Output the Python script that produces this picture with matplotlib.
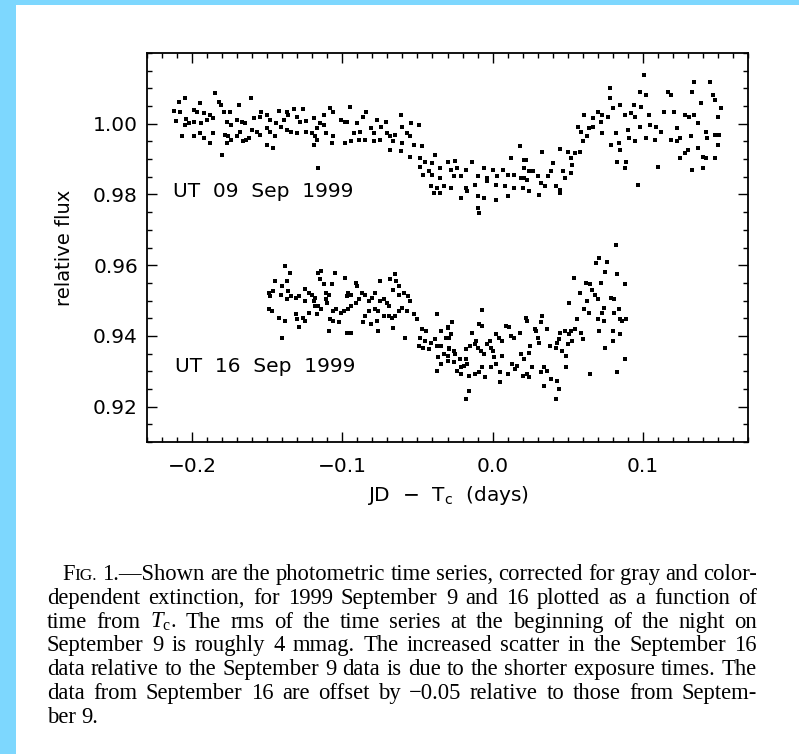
import matplotlib
matplotlib.use("Agg")
import matplotlib.pyplot as plt
from matplotlib.ticker import MultipleLocator
from matplotlib.patches import Rectangle

plt.rcParams['font.family'] = ['DejaVu Sans']
plt.rcParams['mathtext.fontset'] = 'custom'
plt.rcParams['mathtext.rm'] = 'Liberation Serif'
plt.rcParams['mathtext.it'] = 'Liberation Serif:italic'
plt.rcParams['mathtext.sf'] = 'DejaVu Sans'

# ---------------- data ----------------
sep09_points = [
    (-0.205,1.0074),(-0.209,1.0062),(-0.185,1.0086),(-0.161,1.0074),(-0.182,1.0062),(-0.181,1.0053),
    (-0.195,1.0058),(-0.169,1.0053),(-0.212,1.0036),(-0.208,1.0034),(-0.199,1.0039),(-0.197,1.0034),
    (-0.192,1.0029),(-0.188,1.0025),(-0.179,1.0032),(-0.175,1.0034),(-0.211,1.0008),(-0.204,1.0013),
    (-0.202,1.0001),(-0.205,0.9997),(-0.199,1.0006),(-0.194,1.0001),(-0.190,1.0011),(-0.186,1.0017),
    (-0.177,1.0006),(-0.174,0.9997),(-0.170,1.0011),(-0.167,1.0006),(-0.165,1.0001),(-0.159,1.0015),
    (-0.154,1.0034),(-0.155,1.0020),(-0.150,1.0025),(-0.142,1.0036),(-0.137,1.0034),(-0.132,1.0042),
    (-0.126,1.0042),(-0.148,1.0011),(-0.144,1.0001),(-0.139,1.0011),(-0.136,1.0025),(-0.130,1.0020),
    (-0.128,1.0006),(-0.124,1.0008),(-0.119,1.0015),(-0.112,1.0025),(-0.106,1.0034),(-0.108,1.0044),
    (-0.101,1.0011),(-0.097,1.0006),(-0.112,0.9997),(-0.115,1.0001),(-0.207,0.9964),(-0.199,0.9964),
    (-0.195,0.9973),(-0.192,0.9959),(-0.188,0.9945),(-0.186,0.9973),(-0.178,0.9968),(-0.176,0.9964),
    (-0.174,0.9954),(-0.170,0.9964),(-0.168,0.9978),(-0.164,0.9954),(-0.160,0.9983),(-0.157,0.9978),
    (-0.155,0.9968),(-0.150,0.9987),(-0.148,0.9978),(-0.145,0.9964),(-0.141,0.9992),(-0.137,0.9983),
    (-0.134,0.9978),(-0.130,0.9973),(-0.124,0.9978),(-0.120,0.9973),(-0.118,0.9964),(-0.117,0.9987),
    (-0.111,0.9973),(-0.106,0.9964),(-0.107,0.9945),(-0.119,0.9940),(-0.117,0.9954),(-0.098,0.9945),
    (-0.150,0.9940),(-0.146,0.9931),(-0.177,0.9945),(-0.180,0.9912),(-0.116,0.9875),(-0.162,0.9959),
    (-0.166,0.9950),
    (-0.095,1.0048),(-0.084,1.0034),(-0.086,1.0020),(-0.098,1.0006),(-0.090,1.0001),(-0.077,1.0011),
    (-0.071,1.0006),(-0.061,1.0025),(-0.054,1.0001),(-0.049,0.9997),(-0.060,0.9992),(-0.074,0.9992),
    (-0.081,0.9987),(-0.088,0.9978),(-0.092,0.9973),(-0.079,0.9973),(-0.070,0.9973),(-0.068,0.9964),
    (-0.065,0.9967),(-0.057,0.9973),(-0.055,0.9964),(-0.098,0.9945),(-0.094,0.9950),(-0.089,0.9954),
    (-0.085,0.9954),(-0.079,0.9950),(-0.075,0.9954),(-0.066,0.9950),(-0.060,0.9945),(-0.052,0.9940),
    (-0.047,0.9936),(-0.068,0.9926),(-0.061,0.9923),(-0.055,0.9907),(-0.048,0.9903),(-0.038,0.9912),
    (-0.045,0.9893),(-0.040,0.9889),(-0.030,0.9893),(-0.025,0.9895),(-0.014,0.9893),(-0.048,0.9879),
    (-0.042,0.9865),(-0.035,0.9875),(-0.028,0.9870),(-0.024,0.9875),(-0.018,0.9870),(-0.006,0.9875),
    (-0.000,0.9870),(0.007,0.9870),(0.012,0.9903),(0.018,0.9936),(0.021,0.9898),(0.021,0.9875),
    (0.024,0.9865),(-0.046,0.9856),(-0.040,0.9856),(-0.035,0.9846),(-0.026,0.9851),(-0.021,0.9851),
    (-0.010,0.9851),(-0.004,0.9846),(0.003,0.9851),(0.010,0.9856),(0.014,0.9856),(0.021,0.9846),
    (-0.041,0.9823),(-0.037,0.9818),(-0.032,0.9823),(-0.028,0.9818),(-0.018,0.9818),(-0.012,0.9828),
    (-0.004,0.9837),(0.002,0.9828),(0.008,0.9823),(0.014,0.9818),(0.020,0.9818),(-0.039,0.9804),
    (-0.035,0.9804),(-0.017,0.9809),(-0.010,0.9795),(-0.006,0.9790),(0.002,0.9785),(0.010,0.9795),
    (-0.021,0.9790),(-0.010,0.9762),(-0.009,0.9748),
    (0.022,0.9898),(0.027,0.9865),(0.019,0.9846),(0.023,0.9842),(0.030,0.9851),(0.033,0.9920),
    (0.040,0.9889),(0.039,0.9865),(0.037,0.9851),(0.032,0.9832),(0.035,0.9823),(0.024,0.9809),
    (0.031,0.9799),(0.042,0.9823),(0.045,0.9814),(0.047,0.9865),(0.048,0.9846),(0.045,0.9804),
    (0.045,0.9929),(0.050,0.9921),(0.052,0.9903),(0.055,0.9917),(0.053,0.9884),(0.052,0.9860),
    (0.058,0.9921),(0.060,0.9950),(0.057,0.9992),(0.059,0.9978),(0.064,0.9987),(0.067,0.9992),
    (0.063,0.9964),(0.061,1.0025),(0.067,1.0015),(0.070,1.0034),(0.073,1.0025),(0.077,1.0020),
    (0.072,1.0006),(0.073,0.9973),(0.078,1.0100),(0.078,1.0072),(0.080,1.0044),(0.085,1.0053),
    (0.088,1.0025),(0.092,1.0029),(0.094,1.0053),(0.095,1.0020),(0.099,1.0048),(0.098,1.0090),
    (0.102,1.0081),(0.101,1.0137),(0.104,1.0025),(0.105,0.9997),(0.109,0.9992),(0.112,0.9978),
    (0.114,1.0034),(0.117,1.0090),(0.119,1.0081),(0.121,1.0034),(0.123,0.9987),(0.128,1.0025),
    (0.131,1.0020),(0.134,1.0025),(0.137,1.0001),(0.139,1.0058),(0.133,1.0090),(0.134,1.0119),
    (0.145,1.0119),(0.147,1.0081),(0.148,1.0067),(0.150,1.0020),(0.142,0.9978),(0.143,0.9959),
    (0.148,0.9968),(0.151,0.9968),(0.082,0.9973),(0.090,0.9983),(0.091,0.9959),(0.095,0.9950),
    (0.098,0.9992),(0.102,0.9959),(0.108,0.9954),(0.119,0.9954),(0.123,0.9950),(0.125,0.9959),
    (0.132,0.9964),(0.137,0.9931),(0.130,0.9926),(0.125,0.9903),(0.128,0.9917),(0.140,0.9907),
    (0.142,0.9903),(0.148,0.9903),(0.150,0.9940),(0.079,0.9940),(0.084,0.9945),(0.085,0.9926),
    (0.083,0.9893),(0.089,0.9893),(0.088,0.9875),(0.110,0.9879),(0.097,0.9828),(0.133,0.9870),
    (0.140,0.9875),(0.152,1.0044),
]

# Sep 16 values, already offset by -0.05 as in the figure
sep16_points = [
    (-0.138,0.9597),(-0.135,0.9578),(-0.145,0.9555),(-0.137,0.9555),(-0.140,0.9541),(-0.149,0.9522),
    (-0.146,0.9527),(-0.141,0.9517),(-0.148,0.9513),(-0.136,0.9527),(-0.134,0.9513),(-0.137,0.9503),
    (-0.131,0.9508),(-0.129,0.9513),(-0.125,0.9532),(-0.122,0.9522),(-0.120,0.9517),(-0.118,0.9508),
    (-0.119,0.9499),(-0.125,0.9499),(-0.116,0.9578),(-0.114,0.9583),(-0.115,0.9560),(-0.112,0.9546),
    (-0.107,0.9546),(-0.105,0.9578),(-0.098,0.9564),(-0.091,0.9550),(-0.090,0.9541),(-0.111,0.9522),
    (-0.109,0.9517),(-0.111,0.9503),(-0.110,0.9494),(-0.116,0.9485),(-0.118,0.9485),(-0.149,0.9475),
    (-0.147,0.9471),(-0.142,0.9452),(-0.138,0.9442),(-0.131,0.9461),(-0.130,0.9447),(-0.126,0.9452),
    (-0.125,0.9442),(-0.129,0.9424),(-0.122,0.9466),(-0.117,0.9461),(-0.114,0.9475),(-0.106,0.9471),
    (-0.104,0.9475),(-0.101,0.9466),(-0.099,0.9471),(-0.096,0.9475),(-0.094,0.9485),(-0.091,0.9494),
    (-0.097,0.9513),(-0.096,0.9522),(-0.094,0.9517),(-0.087,0.9522),(-0.089,0.9503),(-0.085,0.9517),
    (-0.082,0.9499),(-0.080,0.9508),(-0.078,0.9522),(-0.075,0.9555),(-0.075,0.9499),(-0.072,0.9503),
    (-0.070,0.9494),(-0.069,0.9485),(-0.068,0.9560),(-0.065,0.9574),(-0.064,0.9555),(-0.062,0.9541),
    (-0.066,0.9531),(-0.062,0.9517),(-0.059,0.9522),(-0.056,0.9513),(-0.055,0.9499),(-0.060,0.9480),
    (-0.057,0.9471),(-0.052,0.9461),(-0.050,0.9447),(-0.062,0.9471),(-0.065,0.9456),(-0.067,0.9452),
    (-0.069,0.9456),(-0.076,0.9471),(-0.072,0.9456),(-0.078,0.9475),(-0.082,0.9471),(-0.085,0.9456),
    (-0.086,0.9438),(-0.081,0.9433),(-0.077,0.9442),(-0.076,0.9414),(-0.108,0.9447),(-0.106,0.9442),
    (-0.102,0.9438),(-0.109,0.9414),(-0.097,0.9409),(-0.094,0.9409),(-0.140,0.9395),(-0.066,0.9423),
    (-0.058,0.9395),(-0.037,0.9461),(-0.047,0.9419),(-0.044,0.9414),(-0.048,0.9395),(-0.045,0.9386),
    (-0.041,0.9381),(-0.038,0.9391),(-0.049,0.9372),(-0.046,0.9367),(-0.042,0.9362),(-0.037,0.9372),
    (-0.036,0.9339),(-0.034,0.9320),(-0.037,0.9301),(-0.030,0.9423),(-0.029,0.9395),(-0.030,0.9344),
    (-0.029,0.9367),
    (-0.034,0.9414),(-0.030,0.9424),(-0.027,0.9438),(-0.031,0.9395),(-0.028,0.9405),(-0.034,0.9372),
    (-0.029,0.9362),(-0.026,0.9358),(-0.025,0.9348),(-0.032,0.9348),(-0.034,0.9320),(-0.030,0.9330),
    (-0.026,0.9325),(-0.022,0.9334),(-0.021,0.9311),(-0.019,0.9316),(-0.018,0.9334),(-0.024,0.9301),
    (-0.021,0.9292),(-0.016,0.9287),(-0.012,0.9292),(-0.017,0.9320),(-0.018,0.9362),(-0.015,0.9372),
    (-0.012,0.9377),(-0.011,0.9386),(-0.014,0.9409),(-0.009,0.9433),(-0.007,0.9428),(-0.007,0.9472),
    (-0.010,0.9367),(-0.008,0.9358),(-0.006,0.9348),(-0.004,0.9377),(-0.002,0.9386),(-0.001,0.9367),
    (-0.000,0.9358),(0.001,0.9339),(0.002,0.9405),(0.004,0.9395),(0.006,0.9386),(0.009,0.9428),
    (0.011,0.9424),(0.012,0.9400),(0.014,0.9395),(0.018,0.9409),(0.006,0.9344),(0.002,0.9320),
    (-0.001,0.9311),(-0.007,0.9311),(-0.005,0.9283),(-0.009,0.9297),(0.005,0.9297),(0.005,0.9269),
    (0.010,0.9292),(0.013,0.9320),(0.016,0.9316),(0.015,0.9306),(0.019,0.9348),(0.021,0.9334),
    (0.020,0.9287),(0.023,0.9292),(0.025,0.9372),(0.024,0.9353),(0.029,0.9414),(0.030,0.9395),
    (0.031,0.9381),(0.028,0.9419),(0.022,0.9452),(0.023,0.9442),(0.033,0.9456),(0.032,0.9438),
    (0.036,0.9419),(0.038,0.9372),(0.042,0.9367),(0.043,0.9381),(0.045,0.9409),(0.048,0.9414),
    (0.044,0.9391),(0.046,0.9358),(0.049,0.9344),(0.050,0.9377),(0.051,0.9405),(0.052,0.9414),
    (0.055,0.9419),(0.056,0.9447),(0.053,0.9386),(0.059,0.9409),(0.060,0.9391),(0.034,0.9311),
    (0.036,0.9301),(0.032,0.9297),(0.039,0.9278),(0.043,0.9273),(0.044,0.9250),(0.042,0.9222),
    (0.034,0.9259),(0.026,0.9311),(0.024,0.9283),(-0.016,0.9245),(-0.018,0.9222),(0.049,0.9311),
    (0.051,0.9494),(0.054,0.9564),(0.058,0.9522),(0.062,0.9550),(0.065,0.9546),(0.066,0.9531),
    (0.068,0.9517),(0.063,0.9499),(0.061,0.9475),(0.064,0.9466),(0.070,0.9503),(0.072,0.9550),
    (0.075,0.9581),(0.071,0.9621),(0.069,0.9607),(0.076,0.9609),(0.082,0.9658),(0.083,0.9574),
    (0.088,0.9548),(0.079,0.9508),(0.081,0.9503),(0.074,0.9480),(0.073,0.9466),(0.070,0.9447),
    (0.074,0.9442),(0.071,0.9414),(0.081,0.9466),(0.084,0.9475),(0.085,0.9447),(0.089,0.9447),
    (0.086,0.9442),(0.085,0.9405),(0.080,0.9414),(0.080,0.9386),(0.075,0.9367),(0.088,0.9334),
    (0.065,0.9292),(0.083,0.9297),
]

x_ticks = [-0.2, -0.1, 0.0, 0.1]
x_tick_labels = ['\u22120.2', '\u22120.1', '0.0', '0.1']
y_ticks = [0.92, 0.94, 0.96, 0.98, 1.00]
y_tick_labels = ['0.92', '0.94', '0.96', '0.98', '1.00']
x_range = (-0.23, 0.17)
y_range = (0.91, 1.02)
series_labels = ['UT  09  Sep  1999', 'UT  16  Sep  1999']
series_label_pos = [(-0.2127, 0.9794), (-0.2115, 0.9297)]
x_title = 'JD  \u2212  T$_{\\mathsf{c}}$  (days)'
y_title = 'relative flux'

caption_lines = [
    'FIG. 1.\u2014Shown are the photometric time series, corrected for gray and color-',
    'dependent extinction, for 1999 September 9 and 16 plotted as a function of',
    'time from $T_\\mathrm{c}$. The rms of the time series at the beginning of the night on',
    'September 9 is roughly 4 mmag. The increased scatter in the September 16',
    'data relative to the September 9 data is due to the shorter exposure times. The',
    'data from September 16 are offset by \u22120.05 relative to those from Septem-',
    'ber 9.',
]

# ---------------- figure ----------------
W, H = 799, 754
fig = plt.figure(figsize=(W / 100, H / 100), dpi=100)
fig.patch.set_facecolor('white')

# light-blue page border (top and left)
border = '#7dd7fe'
fig.patches.append(Rectangle((0, 1 - 5 / H), 1, 5 / H, transform=fig.transFigure,
                             facecolor=border, edgecolor='none', zorder=0))
fig.patches.append(Rectangle((0, 0), 16 / W, 1, transform=fig.transFigure,
                             facecolor=border, edgecolor='none', zorder=0))

ax_l, ax_r, ax_t, ax_b = 147, 748, 53, 442
ax = fig.add_axes([ax_l / W, 1 - ax_b / H, (ax_r - ax_l) / W, (ax_b - ax_t) / H])

sx, sy = zip(*sep09_points)
ax.plot(sx, sy, linestyle='none', marker='s', ms=2.5, mew=0, color='black')
tx, ty = zip(*sep16_points)
ax.plot(tx, ty, linestyle='none', marker='s', ms=2.5, mew=0, color='black')

lab_fs = 14.5
ax.set_xlim(*x_range)
ax.set_ylim(*y_range)
ax.set_xticks(x_ticks, labels=x_tick_labels)
ax.set_yticks(y_ticks, labels=y_tick_labels)
ax.xaxis.set_minor_locator(MultipleLocator(0.01))
ax.yaxis.set_minor_locator(MultipleLocator(0.005))
ax.tick_params(which='both', direction='in', top=True, right=True, color='black', labelsize=lab_fs)
ax.tick_params(which='major', length=7.2, width=1.0)
ax.tick_params(which='minor', length=3.6, width=1.0)
ax.tick_params(axis='x', which='major', pad=11)
ax.tick_params(axis='y', which='major', pad=6.5)
for s in ax.spines.values():
    s.set_linewidth(1.3)

ax.set_xlabel(x_title, fontsize=lab_fs, va='center')
ax.xaxis.set_label_coords(0.5, (ax_b - 496) / (ax_b - ax_t))
ax.set_ylabel(y_title, fontsize=14, va='center')
ax.yaxis.set_label_coords((65 - ax_l) / (ax_r - ax_l), 0.5)

for lab, (lx, ly) in zip(series_labels, series_label_pos):
    ax.text(lx, ly, lab, fontsize=lab_fs, ha='left', va='baseline')

# ---------------- caption (justified) ----------------
renderer = fig.canvas.get_renderer()
cap_fs = 16.3
cap_family = 'Liberation Serif'
left0, indent0, right0 = 47, 62, 757
base0, lead = 580, 23.8


def pieces(word):
    if word == 'FIG.':
        return [('F', cap_fs), ('IG.', cap_fs * 0.76)]
    return [(word, cap_fs)]


def draw_word(word, xpx, ypx, keep=True):
    total = 0.0
    objs = []
    for txt, fs in pieces(word):
        t = fig.text((xpx + total) / W, 1 - ypx / H, txt, fontsize=fs,
                     family=cap_family, ha='left', va='baseline', color='black')
        total += t.get_window_extent(renderer).width
        objs.append(t)
    if not keep:
        for t in objs:
            t.remove()
    return total


space_px = 0.25 * cap_fs * 100 / 72
for i, line in enumerate(caption_lines):
    words = line.split(' ')
    widths = [draw_word(w, 0, 0, keep=False) for w in words]
    x0 = indent0 if i == 0 else left0
    yb = base0 + i * lead
    last = (i == len(caption_lines) - 1)
    if last or len(words) < 2:
        gap = space_px
    else:
        gap = max(2.0, (right0 - x0 - sum(widths)) / (len(words) - 1))
    x = x0
    for w, wd in zip(words, widths):
        draw_word(w, x, yb)
        x += wd + gap

fig.savefig('out.png', dpi=100, facecolor='white')
